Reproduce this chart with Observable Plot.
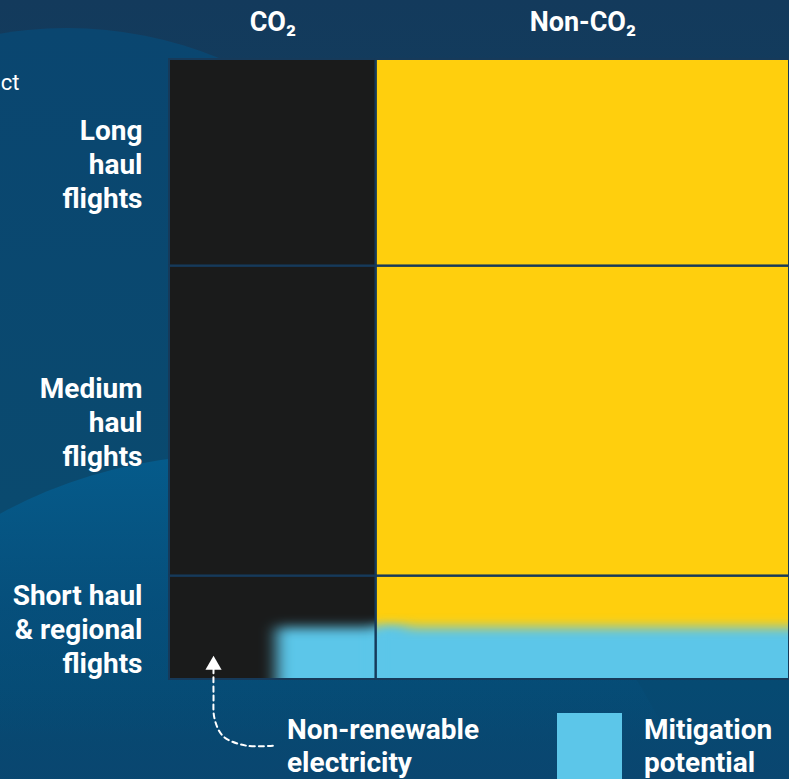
<!DOCTYPE html>
<html>
<head>
<meta charset="utf-8">
<script src="https://cdn.jsdelivr.net/npm/d3@7"></script>
<script src="https://cdn.jsdelivr.net/npm/@observablehq/plot@0.6"></script>
<style>
  html, body { margin: 0; padding: 0; }
  #wrap {
    position: relative; width: 789px; height: 779px; overflow: hidden;
    background: linear-gradient(180deg, #133a5c 0%, #11405f 40%, #0a4770 75%, #064a72 88%, #0a4670 100%);
    font-family: Roboto, "Noto Sans", sans-serif;
  }
  .blob { position: absolute; border-radius: 50%; }
  #blob1 { left: -333px; top: 28px; width: 800px; height: 800px;
    background: linear-gradient(180deg, #0a4670 0%, #0a4a6f 60%, #064a72 82%, #0a4670 95%); }
  #blob2 { left: -250px; top: 455px; width: 960px; height: 960px;
    background: linear-gradient(180deg, #055b8b 0%, rgba(5,82,130,0.6) 16%, rgba(6,74,114,0) 30%); }
  #chart { position: absolute; left: 0; top: 0; }
  .legend { position: absolute; left: 0; top: 713px; width: 789px; height: 66px; color: #fff; }
  .legend .lab { position: absolute; top: 0; font: 700 28px/33px Roboto, sans-serif; white-space: nowrap; }
  .legend .sw { position: absolute; top: 0; width: 65px; height: 70px; background: #5cc6e9; }
</style>
</head>
<body>
<div id="wrap">
  <div class="blob" id="blob1"></div>
  <div class="blob" id="blob2"></div>
  <div id="chart"></div>
  <div class="legend">
    <div class="lab" style="left:287px">Non-renewable<br>electricity</div>
    <div class="sw" style="left:557px"></div>
    <div class="lab" style="left:644px">Mitigation<br>potential</div>
  </div>
</div>
<script>
// ---- data ----
const columns = ["CO₂", "Non-CO₂"];
const columnWidths = [1, 2];
const columnFills = ["#1a1b1b", "#ffcf0d"];
const rows = ["Long\nhaul\nflights", "Medium\nhaul\nflights", "Short haul\n& regional\nflights"];
const rowHeights = [2, 3, 1];
const mitigationRow = 2; // index into rows
const mitigationWidthShare = [0.48, 1];   // share of each column's width (from the right)
const mitigationHeightShare = [0.5, 0.5]; // share of the row's height (from the bottom)
const mitigationColor = "#5cc6e9";
const axisTitle = "Climate impact";

// ---- derived tables ----
const colData = [];
{ let acc = 0; columns.forEach((c, i) => { colData.push({name: c, x1: acc, x2: acc + columnWidths[i], mid: acc + columnWidths[i] / 2, fill: columnFills[i]}); acc += columnWidths[i]; }); }
const rowData = [];
{ let acc = 0; rows.forEach((r, i) => { rowData.push({name: r, y1: acc, y2: acc + rowHeights[i], mid: acc + rowHeights[i] / 2}); acc += rowHeights[i]; }); }
const cells = [];
rowData.forEach(r => colData.forEach(c => cells.push({row: r.name, col: c.name, x1: c.x1, x2: c.x2, y1: r.y1, y2: r.y2, fill: c.fill})));
const mr = rowData[mitigationRow];
const mitigation = colData.map((c, i) => ({
  x1: c.x2 - mitigationWidthShare[i] * (c.x2 - c.x1),
  x2: c.x2,
  y1: mr.y2 - mitigationHeightShare[i] * (mr.y2 - mr.y1),
  y2: mr.y2
}));
const totalX = d3.sum(columnWidths), totalY = d3.sum(rowHeights);

// annotation arrow (data units): from legend label up into the short-haul CO₂ cell
const arrowPath = [
  {x: 0.50, y: 6.64}, {x: 0.37, y: 6.64}, {x: 0.26, y: 6.55},
  {x: 0.218, y: 6.38}, {x: 0.213, y: 6.15}, {x: 0.213, y: 5.9}
];
const arrowTip = [{x: 0.213, y: 5.86}];

const plot = Plot.plot({
  width: 789, height: 779,
  marginTop: 59, marginBottom: 100, marginLeft: 169, marginRight: 0,
  x: {domain: [0, totalX], axis: null},
  y: {domain: [0, totalY], reverse: true, axis: null},
  style: {background: "transparent", fontFamily: "Roboto, sans-serif", color: "#fff", overflow: "visible"},
  marks: [
    Plot.rect(cells, {x1: "x1", x2: "x2", y1: "y1", y2: "y2", fill: "fill"}),
    Plot.rect(mitigation, {x1: "x1", x2: "x2", y1: "y1", y2: "y2", fill: mitigationColor,
      insetBottom: -30, insetRight: -30, clip: true}),
    Plot.rect(cells, {x1: "x1", x2: "x2", y1: "y1", y2: "y2", fill: "none", stroke: "#163a5a", strokeWidth: 2}),
    Plot.text(colData, {x: "mid", text: "name", frameAnchor: "top", dy: -37, lineAnchor: "middle",
      fontSize: 27, fontWeight: 700, fill: "#fff"}),
    Plot.text(rowData, {y: "mid", text: "name", frameAnchor: "left", dx: -27, textAnchor: "end", lineAnchor: "middle",
      lineHeight: 1.21, fontSize: 28, fontWeight: 700, fill: "#fff"}),
    Plot.text([axisTitle], {text: d => d, frameAnchor: "top-left", dx: -150, dy: 23, textAnchor: "end", lineAnchor: "middle",
      fontSize: 22, fontWeight: 400, fill: "#fff"}),
    Plot.line(arrowPath, {x: "x", y: "y", curve: "catmull-rom", stroke: "#fff", strokeWidth: 2, strokeDasharray: "5,4"}),
    Plot.dot(arrowTip, {x: "x", y: "y", symbol: "triangle", r: 6, fill: "#fff", stroke: "none"})
  ]
});
document.getElementById("chart").appendChild(plot);
// soft edge for the mitigation area (SVG filter, then clipped to the frame)
const svgEl = plot.tagName.toLowerCase() === "svg" ? plot : plot.querySelector("svg");
const svg = d3.select(svgEl);
const f = svg.insert("defs", ":first-child").append("filter")
  .attr("id", "mitblur").attr("filterUnits", "userSpaceOnUse")
  .attr("x", 0).attr("y", 0).attr("width", 789).attr("height", 779);
f.append("feGaussianBlur").attr("stdDeviation", "8 6");
svg.selectAll("rect").each(function () {
  const own = (this.getAttribute("fill") || "").toLowerCase();
  const par = (this.parentNode.getAttribute("fill") || "").toLowerCase();
  if (own === mitigationColor || (!own && par === mitigationColor)) this.setAttribute("filter", "url(#mitblur)");
});
</script>
</body>
</html>
